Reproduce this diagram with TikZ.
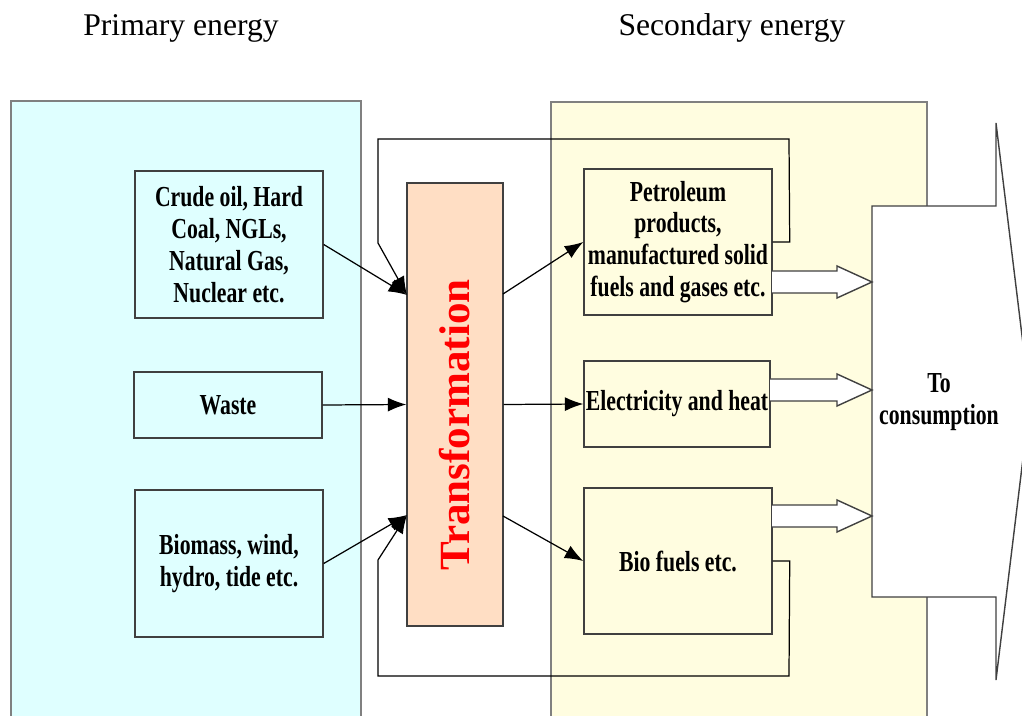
\documentclass[tikz,border=0pt]{standalone}
\usepackage{fontspec}
\setmainfont{Liberation Serif}
\newfontfamily\boxfont[FakeStretch=0.75]{Liberation Serif}
\usetikzlibrary{arrows.meta}

\definecolor{primfill}{RGB}{223,255,255}
\definecolor{secfill}{RGB}{255,253,224}
\definecolor{transfill}{RGB}{255,222,196}
\definecolor{edge}{RGB}{64,64,64}

\tikzset{
  panel/.style={draw=gray, line width=0.9pt},
  srcbox/.style={draw=edge, line width=0.85pt, align=center, inner sep=0pt,
    font=\boxfont\bfseries\fontsize{16.5}{18.1}\selectfont},
  flow/.style={-{Latex[length=10.5pt,width=8pt]}, line width=0.7pt},
  hollow/.style={draw=edge, fill=white, line width=0.8pt},
  title/.style={anchor=base, font=\fontsize{18}{20}\selectfont}
}

\begin{document}
\begin{tikzpicture}[x=0.02cm, y=-0.02cm]
    \useasboundingbox (0,0) rectangle (1022,716);
    \clip (0,0) rectangle (1022,716);

    % the two energy panels
    \filldraw[panel, fill=primfill] (11,730) -- (11,101) -- (361,101) -- (361,730);
    \filldraw[panel, fill=secfill] (551,730) -- (551,102) -- (927,102) -- (927,730);

    \node[title] (prim) at (181,36) {Primary energy};
    \node[title] (sec) at (732,36) {Secondary energy};

    % big arrow to consumption
    \draw[draw=edge, fill=white, line width=0.8pt] (872,206) -- (996,206) -- (996,123) -- (1030,401)
        -- (996,680) -- (996,597) -- (872,597) -- cycle;
    \node[srcbox, draw=none] (cons) at (939,402) {To\\consumption};

    % primary sources
    \node[srcbox, fill=primfill, minimum width=3.76cm, minimum height=2.94cm] (crude) at (229,244.5)
        {Crude oil, Hard\\Coal, NGLs,\\Natural Gas,\\Nuclear etc.};
    \node[srcbox, fill=primfill, minimum width=3.76cm, minimum height=1.32cm] (waste) at (228,405) {Waste};
    \node[srcbox, fill=primfill, minimum width=3.76cm, minimum height=2.94cm] (biomass) at (229,563.5)
        {Biomass, wind,\\hydro, tide etc.};

    % transformation
    \node[draw=edge, line width=0.85pt, fill=transfill, minimum width=1.92cm, minimum height=8.86cm] (trans) at (455,404.5) {};
    \node[rotate=90, text=red, font=\bfseries\fontsize{24.5}{27}\selectfont] (translabel) at (455,425) {Transformation};

    % secondary products
    \node[srcbox, fill=secfill, minimum width=3.76cm, minimum height=2.92cm] (petro) at (678,242)
        {Petroleum\\products,\\manufactured solid\\fuels and gases etc.};
    \node[srcbox, fill=secfill, minimum width=3.72cm, minimum height=1.72cm] (elec) at (677,404) {Electricity and heat};
    \node[srcbox, fill=secfill, minimum width=3.76cm, minimum height=2.92cm] (biofuel) at (678,561) {Bio fuels etc.};

    \coordinate (tin1) at (407,295);
    \coordinate (tin3) at (407,515);
    \coordinate (tout1) at (503,294);
    \coordinate (tout3) at (503,516);

    % inputs and outputs
    \draw[flow] (crude.east) -- (tin1);
    \draw[flow] (waste.east) -- (trans.west);
    \draw[flow] (biomass.east) -- (tin3);
    \draw[flow] (tout1) -- (petro.west);
    \draw[flow] (trans.east) -- (elec.west);
    \draw[flow] (tout3) -- (biofuel.west);

    % feedback loops
    \draw[flow] (petro.east) -- ++(17,0) -- (789,139) -- (378,139) -- (378,243) -- (tin1);
    \draw[flow] (biofuel.east) -- ++(17,0) -- (789,676) -- (378,676) -- (378,560) -- (tin3);

    % hollow arrows to consumption
    \foreach \sx/\c in {772/282, 770/390, 772/516}
        \draw[hollow] (\sx,\c-11) -- (837,\c-11) -- (837,\c-16) -- (872,\c) -- (837,\c+16) -- (837,\c+11) -- (\sx,\c+11);
\end{tikzpicture}
\end{document}
